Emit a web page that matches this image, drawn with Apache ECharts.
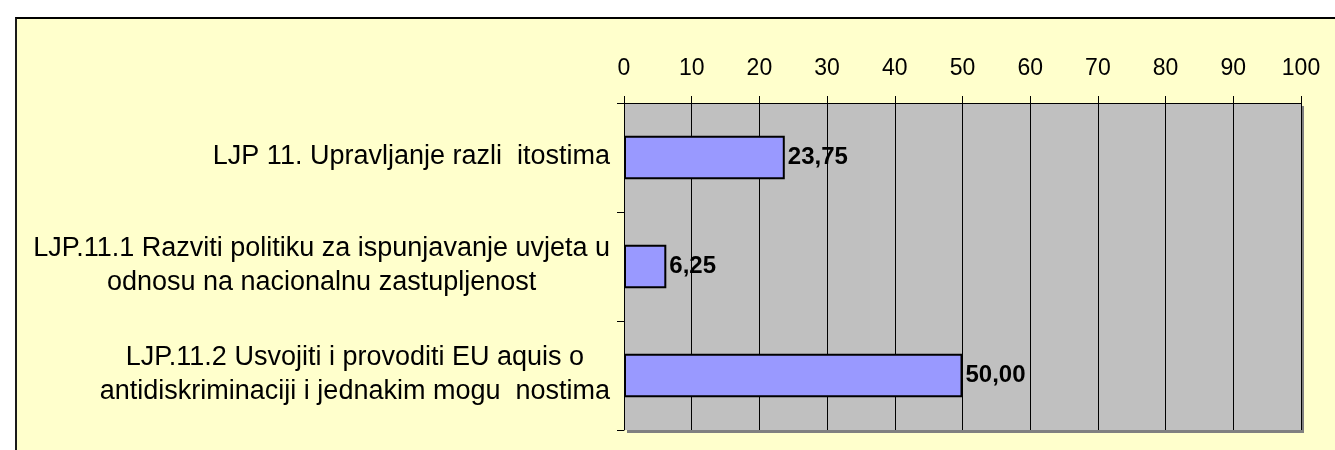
<!DOCTYPE html>
<html>
<head>
<meta charset="utf-8">
<script src="https://cdn.jsdelivr.net/npm/echarts@6/dist/echarts.min.js"></script>
<style>
  html, body { margin: 0; padding: 0; background: #ffffff; overflow: hidden; }
  /* okvir grafikona: crna linija gore i lijevo, žuta pozadina */
  #chart {
    position: absolute; left: 15px; top: 17px;
    width: 1318px; height: 431px;
    border-top: 2px solid #000; border-left: 2px solid #1a1a1a;
    background: #FFFFCC;
  }
</style>
</head>
<body>
<div id="chart"></div>
<script>
// kategorije (odozgo prema dolje)
const categories = [
    'LJP 11. Upravljanje razli  itostima',
    'LJP.11.1 Razviti politiku za ispunjavanje uvjeta u\nodnosu na nacionalnu zastupljenost',
    'LJP.11.2 Usvojiti i provoditi EU aquis o\nantidiskriminaciji i jednakim mogu  nostima'
]
// vrijednosti (%)
const values = [23.75, 6.25, 50.00]
// skala x osi
const axisMin = 0
const axisMax = 100
const axisStep = 10

const font = "'Liberation Sans', Arial, sans-serif"

const chart = echarts.init(document.getElementById('chart'))

const option = {
    animation: false,
    backgroundColor: 'transparent',
    textStyle: { fontFamily: font },
    grid: {
        left: 607,
        right: 34,
        top: 84,
        bottom: 20,
        show: true,
        backgroundColor: '#C0C0C0',
        borderWidth: 0,
        // sjena desno i dolje kao u Excelu
        shadowColor: '#808080',
        shadowBlur: 0,
        shadowOffsetX: 3,
        shadowOffsetY: 3
    },
    xAxis: {
        type: 'value',
        position: 'top',
        min: axisMin,
        max: axisMax,
        interval: axisStep,
        axisLine: { show: true, lineStyle: { color: '#000', width: 1 } },
        axisTick: { show: true, length: 7, lineStyle: { color: '#000' } },
        axisLabel: {
            color: '#000',
            fontSize: 23,
            fontFamily: font,
            margin: 23
        },
        splitLine: { show: true, lineStyle: { color: '#000', width: 1 } }
    },
    yAxis: {
        type: 'category',
        inverse: true,
        data: categories,
        axisLine: { show: true, lineStyle: { color: '#000', width: 1 } },
        axisTick: { show: true, length: 7, alignWithLabel: false, lineStyle: { color: '#000' } },
        axisLabel: {
            margin: 14,
            color: '#000',
            formatter: function (v) {
                return '{c|' + v + '}'
            },
            rich: {
                c: {
                    align: 'center',
                    fontSize: 27,
                    lineHeight: 34,
                    fontFamily: font,
                    color: '#000',
                    padding: [0, 0, 2, 0]
                }
            }
        },
        splitLine: { show: false }
    },
    series: [
        {
            type: 'bar',
            data: values,
            barWidth: '40%',
            itemStyle: {
                color: '#9999FF',
                borderColor: '#000',
                borderWidth: 2
            },
            label: {
                show: true,
                position: 'right',
                distance: 3,
                color: '#000',
                fontSize: 24,
                fontWeight: 'bold',
                fontFamily: font,
                formatter: function (p) {
                    return p.value.toFixed(2).replace('.', ',')
                }
            }
        }
    ]
}

chart.setOption(option)
</script>
</body>
</html>
